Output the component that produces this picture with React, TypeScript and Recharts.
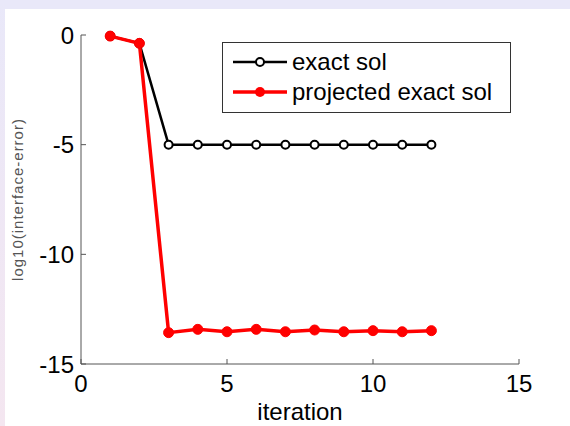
import React from 'react';
import { LineChart, Line, XAxis, YAxis } from 'recharts';

// iteration numbers and log10 of the interface error
const iterations = [1, 2, 3, 4, 5, 6, 7, 8, 9, 10, 11, 12];
const exactSol = [-0.05, -0.38, -5, -5, -5, -5, -5, -5, -5, -5, -5, -5];
const projectedExactSol = [
  -0.05, -0.38, -13.57, -13.42, -13.53, -13.42, -13.53, -13.45, -13.53, -13.48, -13.53, -13.48,
];

const xTicks = [0, 5, 10, 15];
const yTicks = [-15, -10, -5, 0];

const seriesNames = ['exact sol', 'projected exact sol'];

const data = iterations.map((it, i) => ({
  iteration: it,
  exact: exactSol[i],
  projected: projectedExactSol[i],
}));

if (typeof document !== 'undefined') {
  document.body.style.margin = '0';
}

const FONT = '"Liberation Sans", Arial, Helvetica, sans-serif';

// matlab style legend box, drawn over the chart
function MatlabLegend() {
  return (
    <svg width={289} height={71} style={{ display: 'block' }}>
      <rect x={0.5} y={0.5} width={288} height={70} fill="#fff" stroke="#333" strokeWidth={1} />
      <line x1={11} x2={65} y1={20} y2={20} stroke="#000" strokeWidth={2.5} />
      <circle cx={38} cy={20} r={4} fill="#fff" stroke="#000" strokeWidth={2} />
      <text x={70} y={28} fontSize={24} fontFamily={FONT} fill="#000">
        {seriesNames[0]}
      </text>
      <line x1={11} x2={65} y1={50} y2={50} stroke="#ff0000" strokeWidth={3.5} />
      <circle cx={38} cy={50} r={5} fill="#ff0000" />
      <text x={70} y={58} fontSize={24} fontFamily={FONT} fill="#000">
        {seriesNames[1]}
      </text>
    </svg>
  );
}

export default function App() {
  return (
    <div style={{ position: 'relative', width: 570, height: 426, background: '#fff', overflow: 'hidden' }}>
      <div style={{ position: 'absolute', left: 0, top: 0, width: 570, height: 9, background: '#e9e8f9' }} />
      <div
        style={{
          position: 'absolute',
          left: 0,
          top: 0,
          width: 5,
          height: 426,
          background: 'linear-gradient(#e9e8f9, #f4e6f0)',
        }}
      />
      <div style={{ position: 'absolute', left: 0, top: 0 }}>
        <LineChart width={570} height={426} data={data} margin={{ top: 35, right: 51, left: 0, bottom: 0 }}>
          <XAxis
            dataKey="iteration"
            type="number"
            domain={[0, 15]}
            ticks={xTicks}
            height={62}
            stroke="#555"
            tickSize={-5}
            tickMargin={16}
            tick={{ fill: '#000', fontSize: 24, fontFamily: FONT }}
            label={{
              value: 'iteration',
              position: 'insideBottom',
              offset: 6,
              style: { fill: '#000', fontSize: 24, fontFamily: FONT },
            }}
          />
          <YAxis
            type="number"
            domain={[-15, 0]}
            ticks={yTicks}
            width={81}
            stroke="#555"
            tickSize={-5}
            tickMargin={12}
            tick={{ fill: '#000', fontSize: 24, fontFamily: FONT }}
            label={{
              value: 'log10(interface-error)',
              angle: -90,
              position: 'insideLeft',
              offset: 18,
              style: { fill: '#555', fontSize: 15, letterSpacing: 1, fontFamily: FONT, textAnchor: 'middle' },
            }}
          />
          <Line
            dataKey="exact"
            name={seriesNames[0]}
            stroke="#000"
            strokeWidth={2.5}
            dot={{ r: 4, fill: '#fff', stroke: '#000', strokeWidth: 2 }}
            isAnimationActive={false}
          />
          <Line
            dataKey="projected"
            name={seriesNames[1]}
            stroke="#ff0000"
            strokeWidth={3.5}
            dot={{ r: 5, fill: '#ff0000', stroke: '#ff0000', strokeWidth: 1 }}
            isAnimationActive={false}
          />
        </LineChart>
      </div>
      <div style={{ position: 'absolute', left: 222, top: 42 }}>
        <MatlabLegend />
      </div>
    </div>
  );
}
